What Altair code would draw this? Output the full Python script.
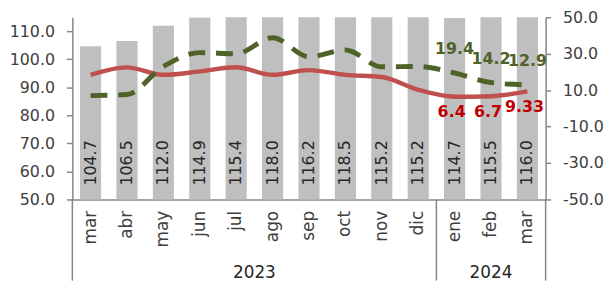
import altair as alt
import pandas as pd

months = ["mar", "abr", "may", "jun", "jul", "ago", "sep", "oct", "nov", "dic", "ene", "feb", "mar"]
years = ["2023"] * 10 + ["2024"] * 3
bar_values = [104.7, 106.5, 112.0, 114.9, 115.4, 118.0, 116.2, 118.5, 115.2, 115.2, 114.7, 115.5, 116.0]
red_values = [18.4, 22.5, 18.4, 20.3, 22.6, 18.4, 21.0, 18.4, 17.2, 10.2, 6.4, 6.7, 9.33]
green_values = [7.0, 7.6, 23.0, 30.6, 30.0, 38.8, 28.3, 32.0, 22.8, 23.0, 19.4, 14.2, 12.9]
red_labels = ["6.4", "6.7", "9.33"]
green_labels = ["19.4", "14.2", "12.9"]

keys = [f"{y}-{m}" for y, m in zip(years, months)]
df = pd.DataFrame({"key": keys, "month": months, "year": years,
                   "bar": bar_values, "red": red_values, "green": green_values})
lab = df.tail(3).copy()
lab["red_label"] = red_labels
lab["green_label"] = green_labels

FONT = "DejaVu Sans"
MINUS = "\u2212"
fmt_expr = f"replace(format(datum.value, '.1f'), '{MINUS}', '-')"

H = 184
PB = 82

x_axis = alt.Axis(title=None, labelAngle=270, labelExpr="split(datum.label, '-')[1]",
                  ticks=False, labelPadding=11, labelFontSize=17)
x_scale = alt.Scale(paddingInner=0, paddingOuter=0)


def xenc(band=0.5):
    return alt.X("key:N", sort=keys, scale=x_scale, axis=x_axis, bandPosition=band)


base = alt.Chart(df)

y_left = alt.Scale(domain=[50, 115], nice=False, zero=False)
l_axis = alt.Axis(orient="left", title=None, values=[50, 60, 70, 80, 90, 100, 110],
                  labelExpr=fmt_expr, tickSize=6, labelPadding=12, labelFontSize=16,
                  labelOverlap=False)

bars = base.mark_bar(color="#BFBFBF", width=alt.RelativeBandSize(0.58), clip=True).encode(
    x=xenc(),
    y=alt.Y("bar:Q", scale=y_left, axis=l_axis),
)
bar_text = base.mark_text(angle=270, align="left", baseline="middle", dx=14,
                          fontSize=16, font=FONT, color="#262626").encode(
    x=xenc(),
    y=alt.YDatum(50, scale=y_left, axis=l_axis),
    text=alt.Text("bar:Q", format=".1f"),
)
left = alt.layer(bars, bar_text)

y_right = alt.Scale(domain=[-50, 50], nice=False, zero=False)
r_axis = alt.Axis(orient="right", title=None, values=[-50, -30, -10, 10, 30, 50],
                  labelExpr=fmt_expr, tickSize=5, labelPadding=12, labelFontSize=16,
                  labelOverlap=False)

red_line = base.mark_line(color="#C0504D", strokeWidth=4.5, interpolate="monotone").encode(
    x=xenc(), y=alt.Y("red:Q", scale=y_right, axis=r_axis))
green_line = base.mark_line(color="#4F6228", strokeWidth=5, strokeDash=[17, 11],
                            interpolate="monotone").encode(
    x=xenc(), y=alt.Y("green:Q", scale=y_right, axis=r_axis))
red_text = alt.Chart(lab).mark_text(dy=16, dx=-3, fontSize=16, fontWeight="bold", font=FONT,
                                    color="#C00000").encode(
    x=xenc(), y=alt.Y("red:Q", scale=y_right, axis=r_axis), text="red_label:N")
green_text = alt.Chart(lab).mark_text(dy=-24, fontSize=16, fontWeight="bold", font=FONT,
                                      color="#4F6228").encode(
    x=xenc(), y=alt.Y("green:Q", scale=y_right, axis=r_axis), text="green_label:N")
right = alt.layer(red_line, green_line, red_text, green_text)

sep_start = pd.DataFrame({"key": [keys[0], keys[10]]})
sep_end = pd.DataFrame({"key": [keys[-1]]})
seps1 = alt.Chart(sep_start).mark_rule(color="#868686", strokeWidth=1.5).encode(
    x=xenc(0), y=alt.value(H), y2=alt.value(H + PB))
seps2 = alt.Chart(sep_end).mark_rule(color="#868686", strokeWidth=1.5).encode(
    x=xenc(1), y=alt.value(H), y2=alt.value(H + PB))

yr2023 = alt.Chart(pd.DataFrame({"key": [keys[4]], "yr": ["2023"]})).mark_text(
    fontSize=17, font=FONT, color="#262626", baseline="middle").encode(
    x=xenc(1), y=alt.value(H + 74), text="yr:N")
yr2024 = alt.Chart(pd.DataFrame({"key": [keys[11]], "yr": ["2024"]})).mark_text(
    fontSize=17, font=FONT, color="#262626", baseline="middle").encode(
    x=xenc(0.5), y=alt.value(H + 74), text="yr:N")

chart = alt.layer(left, right, seps1, seps2, yr2023, yr2024).resolve_scale(
    y="independent"
).properties(
    width=478, height=H,
    autosize=alt.AutoSizeParams(type="none"),
    padding={"left": 65, "top": 8, "right": 62, "bottom": PB},
).configure_axis(
    grid=False, labelFont=FONT, labelColor="#404040",
    domainColor="#868686", tickColor="#868686", domainWidth=1.5, tickWidth=1.5,
).configure_view(strokeWidth=0)

chart.save("out.html", embed_options={"renderer": "svg", "actions": False})
